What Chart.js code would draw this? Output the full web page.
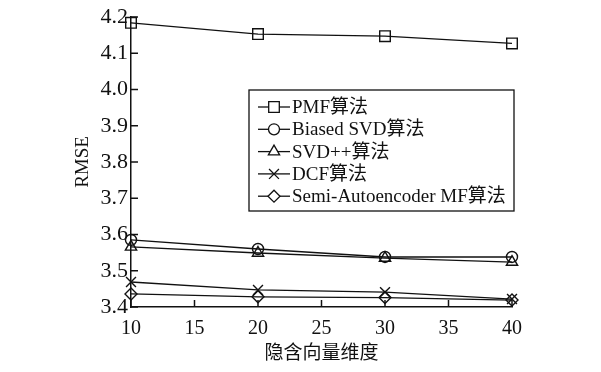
<!DOCTYPE html>
<html>
<head>
<meta charset="utf-8">
<script src="https://cdn.jsdelivr.net/npm/chart.js@4.4.0/dist/chart.umd.min.js"></script>
<style>
  html, body { margin: 0; padding: 0; background: #fff; }
  #wrap { width: 601px; height: 372px; }
</style>
</head>
<body>
<div id="wrap"><canvas id="chart" width="601" height="372"></canvas></div>
<script>
const dims = [10, 20, 30, 40];
const seriesNames = ["PMF算法", "Biased SVD算法", "SVD++算法", "DCF算法", "Semi-Autoencoder MF算法"];
const pmf = [4.184, 4.153, 4.147, 4.127];
const biasedSvd = [3.585, 3.560, 3.538, 3.538];
const svdpp = [3.566, 3.549, 3.535, 3.524];
const dcf = [3.469, 3.447, 3.441, 3.422];
const semiAe = [3.436, 3.428, 3.426, 3.419];
const markers = ["rect", "circle", "triangle", "crossRot", "rectRot"];
const markerSize = [7.5, 5.5, 6.5, 7, 6];

const serif = "'Liberation Serif', 'Times New Roman', 'Noto Sans CJK SC', serif";

const allValues = [pmf, biasedSvd, svdpp, dcf, semiAe];
const datasets = allValues.map((vals, i) => ({
  label: seriesNames[i],
  data: dims.map((d, j) => ({ x: d, y: vals[j] })),
  borderColor: "#111",
  borderWidth: 1.3,
  pointStyle: markers[i],
  pointRadius: markerSize[i],
  pointBorderWidth: 1.4,
  pointBorderColor: "#111",
  pointBackgroundColor: "rgba(0,0,0,0)",
  fill: false,
  clip: false,
  tension: 0
}));

// inward tick marks + boxed legend with line and marker
const extras = {
  id: "extras",
  afterDraw(chart) {
    const ctx = chart.ctx;
    const xs = chart.scales.x, ys = chart.scales.y;
    const area = chart.chartArea;
    ctx.save();
    ctx.strokeStyle = "#111";
    ctx.lineWidth = 1.5;
    xs.ticks.forEach(t => {
      const px = xs.getPixelForValue(t.value);
      ctx.beginPath();
      ctx.moveTo(px, area.bottom);
      ctx.lineTo(px, area.bottom - 7);
      ctx.stroke();
    });
    ys.ticks.forEach(t => {
      const py = ys.getPixelForValue(t.value);
      ctx.beginPath();
      ctx.moveTo(area.left, py);
      ctx.lineTo(area.left + 7, py);
      ctx.stroke();
    });

    // legend
    const bx = 249, by = 90, bw = 265, bh = 121;
    ctx.fillStyle = "#fff";
    ctx.fillRect(bx, by, bw, bh);
    ctx.lineWidth = 1.3;
    ctx.strokeRect(bx, by, bw, bh);
    ctx.font = "19px " + serif;
    ctx.textBaseline = "middle";
    chart.data.datasets.forEach((ds, i) => {
      const y = 107 + i * 22.3;
      ctx.strokeStyle = "#111";
      ctx.lineWidth = 1.3;
      ctx.beginPath();
      ctx.moveTo(258, y);
      ctx.lineTo(290, y);
      ctx.stroke();
      ctx.fillStyle = "#fff";
      Chart.helpers.drawPoint(ctx, {
        pointStyle: ds.pointStyle,
        radius: ds.pointRadius,
        rotation: 0,
        borderWidth: 1.4
      }, 274, y);
      ctx.fillStyle = "#111";
      ctx.fillText(ds.label, 292, y + 1);
    });
    ctx.restore();
  }
};

new Chart(document.getElementById("chart"), {
  type: "line",
  data: { datasets: datasets },
  plugins: [extras],
  options: {
    responsive: false,
    animation: false,
    layout: { padding: { top: 17, right: 89, left: 0, bottom: 0 } },
    plugins: {
      legend: { display: false },
      tooltip: { enabled: false }
    },
    scales: {
      x: {
        type: "linear",
        min: 10,
        max: 40,
        afterFit: s => { s.height = 65; },
        grid: { display: false, drawTicks: false },
        border: { display: true, color: "#111", width: 1.5 },
        ticks: {
          stepSize: 5,
          padding: 10,
          color: "#111",
          font: { family: serif, size: 20 }
        },
        title: {
          display: true,
          text: "隐含向量维度",
          color: "#111",
          font: { family: serif, size: 19 },
          padding: { top: 0, bottom: 7 }
        }
      },
      y: {
        min: 3.4,
        max: 4.2,
        afterFit: s => { s.width = 131; },
        grid: { display: false, drawTicks: false },
        border: { display: true, color: "#111", width: 1.5 },
        ticks: {
          stepSize: 0.1,
          padding: 3,
          color: "#111",
          font: { family: serif, size: 22 },
          callback: v => v.toFixed(1)
        },
        title: {
          display: true,
          text: "RMSE",
          color: "#111",
          font: { family: serif, size: 19 },
          padding: { top: 72, bottom: 0 }
        }
      }
    }
  }
});
</script>
</body>
</html>
